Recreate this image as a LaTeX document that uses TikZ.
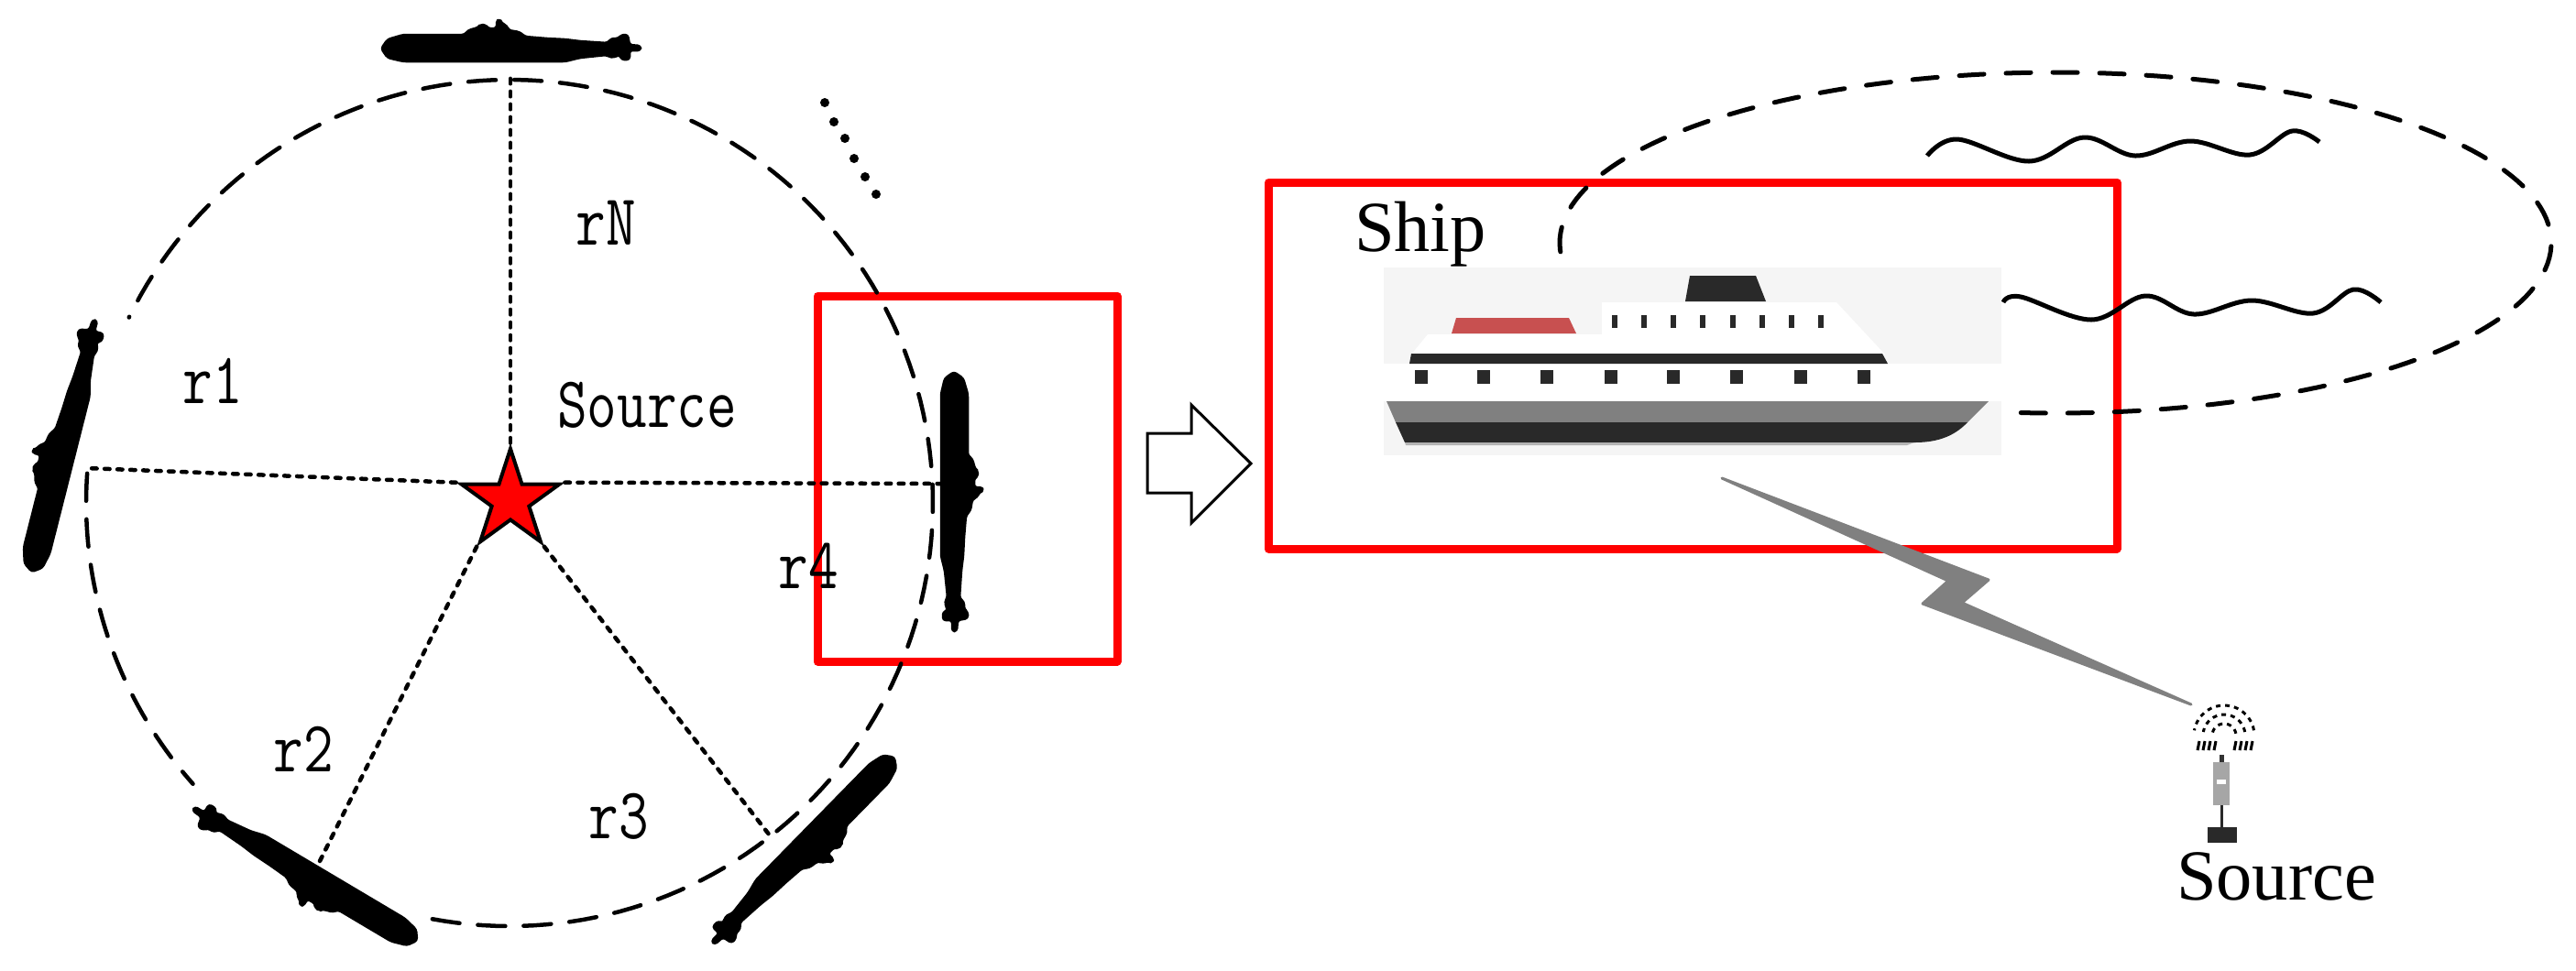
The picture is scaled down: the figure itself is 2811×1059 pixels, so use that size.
\documentclass[tikz,border=0pt]{standalone}
\usepackage{fontspec}
\usetikzlibrary{shapes.geometric}
\newfontfamily\shipfont{Liberation Serif}
\definecolor{shipdark}{HTML}{292929}
\definecolor{shipgrey}{HTML}{808080}
\definecolor{shipback}{HTML}{F5F5F5}
\definecolor{shipred}{HTML}{C85050}
\tikzset{
    redbox/.style={draw=red, line width=0.09cm, line join=round},
    rangeline/.style={line width=0.045cm, line cap=round, dash pattern=on 0.3cm off 0.2cm},
    rayline/.style={line width=0.045cm, line cap=round, dash pattern=on 0.055cm off 0.085cm},
    zoneline/.style={line width=0.05cm, line cap=round, dash pattern=on 0.27cm off 0.24cm},
    wave/.style={line width=0.05cm},
    monolabel/.style={font=\ttfamily\fontsize{18}{20}\selectfont, inner sep=0pt, yscale=1.25, transform shape},
    timeslabel/.style={font=\shipfont\fontsize{22.3}{24}\selectfont, inner sep=0pt, anchor=base},
    submarine/.pic={
        \filldraw[line width=0.025cm, rounded corners=0.03cm, line join=round]
            (-143,6) -- (-136,-4) -- (-119,-9) -- (-52,-9) -- (-48,-14) -- (-37,-17) -- (-35,-20) -- (-29,-20)
            -- (-27,-16) -- (-17,-16) -- (-17,-25) -- (-13,-25) -- (-12,-22) -- (-6,-19) -- (-4,-14) -- (8,-12)
            -- (14,-7) -- (38,-5) -- (58,-4) -- (74,-2) -- (104,0) -- (108,-5) -- (116,-5) -- (119,-9) -- (126,-9)
            -- (128,2) -- (140,3) -- (140,8) -- (128,8) -- (128,18) -- (119,18) -- (118,13) -- (108,16) -- (103,13)
            -- (74,16) -- (58,20) -- (-59,20) -- (-119,20) -- (-136,16) -- cycle;
    }
}
\begin{document}
\begin{tikzpicture}[x=0.01cm,y=-0.01cm]
    \useasboundingbox (0,0) rectangle (2811,1059);

    % Boxes
    \draw[redbox] (892,323) rectangle (1219,722);
    \draw[redbox] (1384,199) rectangle (2310,599);
    \draw[line width=0.03cm, miter limit=10] (1252,473) -- (1300,473) -- (1300,442) -- (1365,506)
        -- (1300,571) -- (1300,538) -- (1252,538) -- cycle;

    % Circle
    \draw[rangeline, domain=176:221.6, samples=40, variable=\t] plot ({556+462*cos(\t)}, {549-462*sin(\t)});
    \draw[rangeline, domain=259.5:514, samples=150, variable=\t] plot ({556+462*cos(\t)}, {549-462*sin(\t)});

    % Source and rays
    \node[draw, fill=red, star, star points=5, star point ratio=2.618, minimum size=1.12cm, inner sep=0pt, line width=0.04cm] (source) at (557,546) {};
    \coordinate (endN) at (557,82);
    \coordinate (endA) at (94,511);
    \coordinate (endB) at (344,950);
    \coordinate (endC) at (840,912);
    \coordinate (endD) at (1026,528);
    \draw[rayline] (source.outer point 1) -- (endN);
    \draw[rayline] (source.outer point 2) -- (endA);
    \draw[rayline] (source.outer point 3) -- (endB);
    \draw[rayline] (source.outer point 4) -- (endC);
    \draw[rayline] (source.outer point 5) -- (endD);

    % Submarines
    \pic (subN) at (559,47) {submarine};
    \pic[rotate=75.8] (subA) at (64,484) {submarine};
    \pic[rotate=149.3] (subB) at (329,959) {submarine};
    \pic[rotate=225.6] (subC) at (880,933) {submarine};
    \pic[rotate=-90] (subD) at (1047,549) {submarine};

    % More submarines
    \foreach \x/\y in {900/112, 910/133, 922/151, 932/173, 944/193, 956/212} {
        \fill (\x,\y) circle (0.05cm);
    }

    % Labels
    \node[monolabel] (labelN) at (661,243) {rN};
    \node[monolabel] (labelA) at (232,416) {r1};
    \node[monolabel] (labelB) at (331,818) {r2};
    \node[monolabel] (labelC) at (675,891) {r3};
    \node[monolabel] (labelD) at (882,618) {r4};
    \node[monolabel] (labelS) at (706,442) {Source};
    \node[timeslabel] (labelShip) at (1550,274) {Ship};
    \node[timeslabel] (labelBuoy) at (2484,982) {Source};

    % Zone and waves
    \draw[zoneline, domain=266:548, samples=150, variable=\t] plot ({2243+541*cos(\t)}, {265-186*sin(\t)});
    \draw[wave] plot[smooth, tension=0.6] coordinates {(2103,170) (2136,152) (2214,176) (2274,150) (2330,170) (2390,154) (2455,169) (2501,143) (2531,155)};
    \draw[wave] plot[smooth, tension=0.6] coordinates {(2186,330) (2205,324) (2282,349) (2341,323) (2394,343) (2457,328) (2524,342) (2568,316) (2598,330)};

    % Ship
    \fill[shipback] (1510,292) rectangle (2184,497);
    \fill[white] (1748,330) -- (2004,330) -- (2057,387) -- (1540,387) -- (1558,365) -- (1748,365) -- cycle;
    \fill[shipdark] (1844,301) -- (1916,301) -- (1927,329) -- (1839,329) -- cycle;
    \fill[shipred] (1589,347) -- (1712,347) -- (1720,364) -- (1584,364) -- cycle;
    \foreach \x in {1762,1794,1826,1858,1891,1923,1955,1987} {
        \fill[shipdark] (\x-3,344) rectangle (\x+3,358);
    }
    \fill[white] (1510,397) rectangle (2184,438);
    \fill[shipdark] (1540,386) -- (2054,386) -- (2060,397) -- (1538,397) -- cycle;
    \foreach \x in {1551,1619,1688,1758,1826,1895,1965,2034} {
        \fill[shipdark] (\x-7,404) rectangle (\x+7,419);
    }
    \fill[shipgrey] (1513,438) -- (2170,438) -- (2147,461) -- (1523,461) -- cycle;
    \fill[shipdark] (1523,461) -- (2147,461) .. controls (2131,478) and (2111,483) .. (2089,483) -- (1533,483) -- cycle;
    \fill[shipgrey!60] (1533,483) -- (2089,483) -- (2081,486) -- (1534,486) -- cycle;

    % Lightning
    \filldraw[shipgrey, line width=0.03cm, line join=round] (1879,522) -- (2170,633) -- (2141,658) -- (2391,769)
        -- (2098,659) -- (2126,634) -- cycle;

    % Buoy
    \foreach \r in {13,23,33} {
        \draw[line width=0.03cm, dash pattern=on 0.05cm off 0.05cm, domain=10:170, samples=30, variable=\t] plot ({2427+\r*cos(\t)}, {803-\r*sin(\t)});
    }
    \foreach \x in {2398,2404,2410,2416} {
        \draw[line width=0.03cm] (\x,819) -- (\x+2,809);
    }
    \foreach \x in {2438,2444,2450,2456} {
        \draw[line width=0.03cm] (\x,819) -- (\x+2,809);
    }
    \fill[gray!40!black] (2422,824) rectangle (2427,832);
    \fill[gray!70] (2415,832) rectangle (2433,879);
    \fill[white] (2419,851) rectangle (2429,856);
    \draw[line width=0.03cm, shipdark] (2424,879) -- (2424,903);
    \fill[shipdark] (2409,903) rectangle (2441,920);
\end{tikzpicture}
\end{document}
